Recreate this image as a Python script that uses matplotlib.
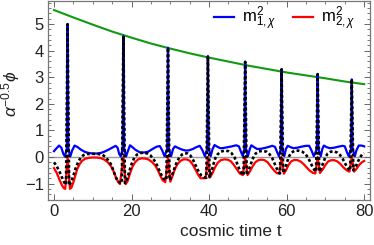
import numpy as np
import matplotlib
matplotlib.use('Agg')
import matplotlib.pyplot as plt
from matplotlib import ticker

plt.rcParams['font.family'] = ['Liberation Sans', 'DejaVu Sans']
plt.rcParams['mathtext.fontset'] = 'custom'
plt.rcParams['mathtext.rm'] = 'Liberation Sans'
plt.rcParams['mathtext.it'] = 'Liberation Sans:italic'

# green envelope
t_env = [0, 5, 10, 15, 20, 25, 30, 35, 40, 45, 50, 55, 60, 65, 70, 75, 80]
v_env = [5.53, 5.25, 4.98, 4.72, 4.49, 4.27, 4.08, 3.90, 3.74, 3.59, 3.44, 3.31, 3.18, 3.07, 2.96, 2.84, 2.74]

# m^2_{1,chi} (blue)
t_m1 = [0.0, 0.6, 1.3, 1.9, 2.4, 2.8, 3.3, 3.5, 3.7, 4.2, 4.7, 5.3, 6.0, 7.0, 8.0, 9.0, 10.0, 11.0, 12.0, 13.0,
        14.0, 15.0, 15.9, 16.4, 16.8, 17.2, 17.7, 17.9, 18.1, 18.6, 19.0, 19.6, 20.3, 21.0, 22.2, 23.3, 24.3,
        25.4, 26.5, 27.3, 27.9, 28.5, 29.2, 29.4, 29.6, 30.2, 30.7, 31.2, 32.0, 33.0, 34.0, 34.8, 35.8, 36.7,
        37.6, 38.3, 38.9, 39.5, 39.7, 39.9, 40.4, 40.9, 41.4, 42.2, 42.9, 43.8, 44.8, 45.9, 47.0, 47.7, 48.2,
        48.7, 49.1, 49.3, 49.5, 50.0, 50.5, 50.9, 51.6, 52.4, 53.4, 54.4, 55.4, 56.3, 57.0, 57.5, 58.0, 58.5,
        58.7, 58.9, 59.4, 59.8, 60.3, 61.0, 61.8, 62.8, 63.9, 65.0, 65.8, 66.4, 67.0, 67.8, 68.0, 68.2, 68.8,
        69.2, 69.6, 70.3, 71.2, 72.3, 73.4, 74.4, 75.0, 75.5, 76.0, 76.6, 76.8, 77.0, 77.6, 78.0, 78.6, 79.3, 80.0]
v_m1 = [0.22, 0.32, 0.43, 0.35, 0.12, 0.02, 0.3, 5.0, 0.3, 0.02, 0.25, 0.43, 0.38, 0.27, 0.19, 0.15, 0.13, 0.13, 0.15, 0.2,
        0.27, 0.35, 0.42, 0.35, 0.12, 0.02, 0.3, 4.55, 0.3, 0.02, 0.2, 0.44, 0.36, 0.27, 0.17, 0.17, 0.2,
        0.3, 0.39, 0.41, 0.25, 0.03, 0.3, 4.11, 0.3, 0.03, 0.3, 0.4, 0.34, 0.28, 0.24, 0.25, 0.3, 0.37,
        0.42, 0.25, 0.03, 0.3, 3.8, 0.3, 0.03, 0.3, 0.45, 0.38, 0.33, 0.34, 0.37, 0.4, 0.44, 0.4, 0.2,
        0.03, 0.3, 3.58, 0.3, 0.03, 0.3, 0.44, 0.37, 0.3, 0.31, 0.34, 0.38, 0.42, 0.38, 0.2, 0.03, 0.3,
        3.3, 0.3, 0.03, 0.3, 0.42, 0.37, 0.33, 0.35, 0.39, 0.42, 0.42, 0.25, 0.03, 0.3, 3.12, 0.3, 0.03,
        0.3, 0.43, 0.37, 0.33, 0.35, 0.39, 0.42, 0.4, 0.2, 0.03, 0.3, 2.92, 0.3, 0.03, 0.25, 0.43, 0.43, 0.4]

# m^2_{2,chi} (red)
t_m2 = [0.0, 0.7, 1.4, 2.0, 2.5, 2.9, 3.5, 4.1, 4.5, 5.0, 5.5, 6.0, 6.6, 7.2, 8.0, 9.0, 10.0, 11.0, 12.0, 13.0,
        13.9, 14.7, 15.4, 16.0, 16.5, 17.0, 17.9, 18.5, 19.0, 19.6, 20.2, 20.9, 21.7, 22.6, 23.5, 24.3, 25.2,
        26.1, 26.8, 27.4, 28.0, 28.7, 29.4, 30.0, 30.6, 31.2, 31.8, 32.6, 33.4, 34.2, 35.0, 35.7, 36.4, 37.1,
        37.8, 39.1, 39.7, 40.3, 40.9, 41.5, 42.2, 43.0, 43.9, 44.8, 45.6, 46.4, 47.2, 47.9, 48.7, 49.3, 49.9,
        50.5, 51.2, 51.9, 52.7, 53.5, 54.3, 55.1, 55.9, 56.7, 57.4, 58.1, 58.7, 59.3, 59.9, 60.5, 61.2, 62.0,
        62.8, 63.6, 64.4, 65.2, 66.0, 66.8, 67.4, 68.0, 68.6, 69.3, 70.0, 70.7, 71.5, 72.3, 73.1, 73.9, 74.7,
        75.5, 76.2, 76.8, 77.4, 78.0, 78.7, 79.4, 80.0]
v_m2 = [-0.42, -0.6, -0.85, -1.05, -1.17, -1.2, 0.0, -1.2, -1.15, -0.95, -0.7, -0.45, -0.27, -0.15, -0.07, -0.03, -0.02, -0.02, -0.04, -0.1,
        -0.2, -0.35, -0.55, -0.78, -0.93, -1.02, 0.0, -1.02, -0.9, -0.62, -0.38, -0.2, -0.09, -0.05, -0.06, -0.09, -0.18,
        -0.32, -0.5, -0.7, -0.87, -0.95, 0.0, -0.93, -0.7, -0.45, -0.28, -0.15, -0.09, -0.09, -0.14, -0.27, -0.45, -0.65,
        -0.8, -0.8, 0.0, -0.76, -0.6, -0.4, -0.22, -0.12, -0.09, -0.1, -0.16, -0.3, -0.47, -0.62, -0.68, 0.0, -0.68,
        -0.55, -0.36, -0.2, -0.12, -0.1, -0.12, -0.2, -0.35, -0.5, -0.6, -0.63, 0.0, -0.63, -0.48, -0.3, -0.16, -0.11,
        -0.12, -0.17, -0.27, -0.4, -0.52, -0.6, -0.62, 0.0, -0.6, -0.47, -0.3, -0.17, -0.12, -0.12, -0.17, -0.27, -0.4,
        -0.5, -0.55, 0.0, -0.55, -0.45, -0.3, -0.2, -0.15]

# field (black dashed)
t_phi = [0.0, 0.7, 1.4, 2.0, 2.6, 3.1, 3.5, 3.9, 4.4, 5.0, 5.6, 6.2, 6.9, 7.6, 8.5, 10.0, 11.5, 12.5, 13.3, 14.1,
         14.8, 15.4, 16.0, 16.5, 17.5, 17.9, 18.3, 18.8, 19.4, 20.0, 20.7, 21.4, 22.3, 23.2, 24.1, 24.8, 25.5,
         26.2, 26.9, 27.6, 28.3, 29.0, 29.4, 29.8, 30.4, 31.0, 31.6, 32.3, 33.0, 33.8, 34.5, 35.2, 35.9, 36.6,
         37.3, 38.0, 38.7, 39.3, 39.7, 40.1, 40.6, 41.1, 41.6, 42.2, 43.0, 44.0, 45.0, 45.8, 46.5, 47.1, 47.7,
         48.3, 48.9, 49.3, 49.7, 50.2, 50.8, 51.4, 52.0, 52.8, 53.8, 54.8, 55.6, 56.3, 56.9, 57.5, 58.0, 58.3,
         58.7, 59.1, 59.6, 60.1, 60.6, 61.2, 62.0, 63.0, 64.0, 64.8, 65.5, 66.1, 66.7, 67.2, 67.6, 68.0, 68.4,
         68.9, 69.5, 70.0, 70.6, 71.4, 72.3, 73.1, 73.8, 74.5, 75.1, 75.7, 76.1, 76.4, 76.8, 77.2, 77.7, 78.3,
         78.9, 79.5, 80.0]
v_phi = [-0.2, -0.35, -0.55, -0.75, -0.95, -1.05, 5.0, -1.07, -0.95, -0.7, -0.42, -0.2, -0.02, 0.07, 0.11, 0.12, 0.11, 0.08, 0.0, -0.15,
         -0.3, -0.55, -0.78, -0.93, -0.98, 4.55, -0.98, -0.85, -0.55, -0.27, -0.03, 0.09, 0.15, 0.16, 0.13, 0.07, -0.05,
         -0.2, -0.42, -0.65, -0.82, -0.87, 4.11, -0.87, -0.7, -0.45, -0.22, -0.02, 0.09, 0.14, 0.13, 0.05, -0.12, -0.34,
         -0.55, -0.7, -0.76, -0.78, 3.8, -0.76, -0.55, -0.28, -0.05, 0.1, 0.2, 0.24, 0.22, 0.14, 0.0, -0.2, -0.42,
         -0.6, -0.68, 3.58, -0.68, -0.5, -0.25, -0.02, 0.13, 0.21, 0.23, 0.2, 0.1, -0.05, -0.25, -0.45, -0.58, -0.62,
         3.3, -0.6, -0.45, -0.2, 0.02, 0.16, 0.23, 0.24, 0.2, 0.12, -0.02, -0.2, -0.38, -0.5, -0.55, 3.12, -0.55,
         -0.42, -0.2, 0.0, 0.13, 0.2, 0.21, 0.16, 0.07, -0.08, -0.25, -0.4, -0.48, -0.5, 2.92, -0.5, -0.4, -0.2,
         -0.02, 0.1, 0.14]

fs = 12
fig = plt.figure(figsize=(3.74, 2.45), dpi=100)
ax = fig.add_axes([48/374, 1-199.5/245, 322/374, 198.5/245])

ax.axhline(0, color='#9a9a9a', lw=1.0, zorder=1)
ax.plot(t_env, v_env, color='#129912', lw=1.5, zorder=2)
ax.plot(t_m1, v_m1, color='#0000ff', lw=1.6, label=r'$\mathregular{m}^2_{1,\chi}$', zorder=3)
ax.plot(t_m2, v_m2, color='#ff0000', lw=1.6, label=r'$\mathregular{m}^2_{2,\chi}$', zorder=3)
ax.plot(t_phi, v_phi, color='black', lw=1.9, ls=(0, (1.1, 0.9)), zorder=4)

ax.set_xlim(-1.55, 81.5)
ax.set_ylim(-1.6, 5.87)

ax.xaxis.set_major_locator(ticker.MultipleLocator(20))
ax.xaxis.set_minor_locator(ticker.MultipleLocator(5))
ax.yaxis.set_major_locator(ticker.MultipleLocator(1))
ax.yaxis.set_minor_locator(ticker.MultipleLocator(0.2))
ax.tick_params(which='both', direction='in', top=True, right=True, color='#666666', labelsize=fs, labelcolor='#222222')
ax.tick_params(which='major', length=4, width=0.7, pad=3)
ax.tick_params(which='minor', length=2.2, width=0.6)
for s in ax.spines.values():
    s.set_color('#777777')
    s.set_linewidth(0.9)

ax.set_xlabel('cosmic time t', fontsize=12.5, color='#222222')
ax.xaxis.set_label_coords(0.568, -0.125)
ax.set_ylabel(r'$\alpha^{-0.5}\phi$', fontsize=12.5, color='#222222')
ax.yaxis.set_label_coords(-0.08, 0.53)

ax.legend(loc='upper right', ncol=2, frameon=False, fontsize=fs, handlelength=1.2,
          columnspacing=1.0, handletextpad=0.5, bbox_to_anchor=(0.985, 1.03), borderaxespad=0.2)

fig.savefig('out.png', dpi=100)
